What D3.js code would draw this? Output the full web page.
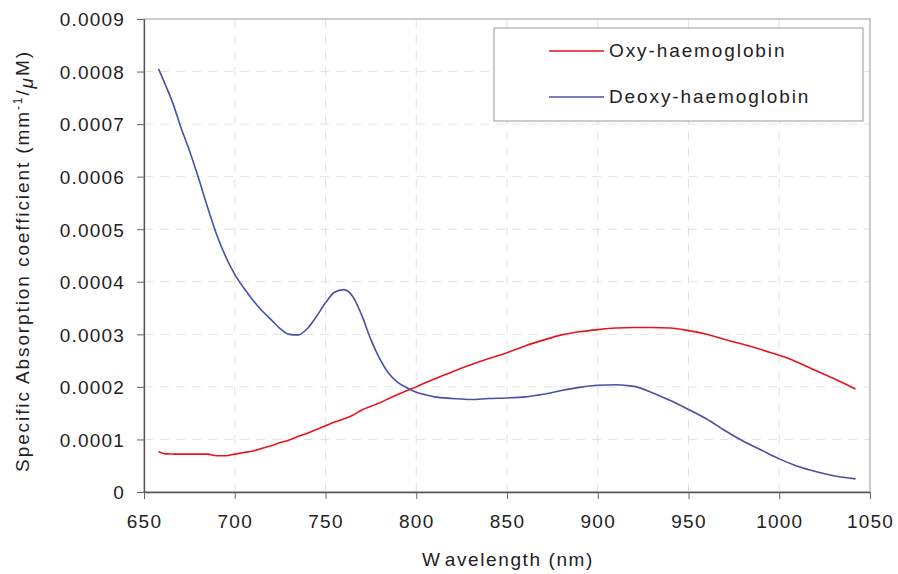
<!DOCTYPE html>
<html>
<head>
<meta charset="utf-8">
<script src="https://cdn.jsdelivr.net/npm/d3@7"></script>
<style>
  body { margin: 0; background: #fff; }
  text { font-family: "Liberation Sans", Arial, sans-serif; fill: #222; }
</style>
</head>
<body>
<div id="chart"></div>
<script>
// wavelength (nm)
const wavelengths = [658, 662, 666, 670, 675, 680, 685, 690, 695, 700, 705, 710, 715, 720, 725, 730, 735, 740, 745, 750,
  755, 760, 765, 770, 775, 780, 785, 790, 795, 800, 805, 810, 820, 830, 840, 850, 860, 870, 880, 890,
  900, 910, 920, 930, 940, 950, 960, 970, 980, 990, 1000, 1010, 1020, 1030, 1042];

const oxy = [0.0000766, 0.0000725, 0.0000722, 0.000072, 0.000072, 0.000072, 0.000072, 0.000069, 0.000069, 0.000072,
  0.000075, 0.000078, 0.000083, 0.000088, 0.000094, 0.000099, 0.000106, 0.000112, 0.000119, 0.000126,
  0.000133, 0.000139, 0.000146, 0.000156, 0.000163, 0.000170, 0.000178, 0.000186, 0.000193, 0.000200,
  0.000208, 0.000215, 0.000229, 0.000242, 0.000254, 0.000265, 0.000278, 0.000289, 0.000299, 0.000305,
  0.000309, 0.000312, 0.000313, 0.000313, 0.000312, 0.000307, 0.000300, 0.000290, 0.000281, 0.000271,
  0.000260, 0.000247, 0.000231, 0.000216, 0.000196];

const deoxy = [0.000805, 0.000773, 0.000739, 0.000697, 0.000650, 0.000598, 0.000542, 0.000490, 0.000448, 0.000414,
  0.000388, 0.000365, 0.000345, 0.000328, 0.000311, 0.000300, 0.000299, 0.000311, 0.000334, 0.000360,
  0.000380, 0.000385, 0.000372, 0.000336, 0.000290, 0.000253, 0.000225, 0.000208, 0.000198, 0.000190,
  0.000185, 0.000181, 0.000178, 0.000176, 0.000178, 0.000179, 0.000181, 0.000186, 0.000193, 0.000199,
  0.000203, 0.000204, 0.000201, 0.000189, 0.000174, 0.000157, 0.000139, 0.000117, 0.000097, 0.000080,
  0.000063, 0.000049, 0.000039, 0.000031, 0.000025];

const xTicks = [650, 700, 750, 800, 850, 900, 950, 1000, 1050];
const yTicks = [0, 0.0001, 0.0002, 0.0003, 0.0004, 0.0005, 0.0006, 0.0007, 0.0008, 0.0009];
const seriesNames = ["Oxy-haemoglobin", "Deoxy-haemoglobin"];
const seriesColors = ["#e8141c", "#4b4fa6"];

const width = 898, height = 574;
const mLeft = 144, mRight = 870, mTop = 19, mBottom = 492;

const svg = d3.select("#chart").append("svg")
  .attr("width", width)
  .attr("height", height);

const x = d3.scaleLinear().domain([650, 1050]).range([mLeft, mRight]);
const y = d3.scaleLinear().domain([0, 0.0009]).range([mBottom, mTop]);

// grid
svg.append("g").selectAll("line").data(xTicks.slice(1, -1)).join("line")
  .attr("x1", d => x(d)).attr("x2", d => x(d))
  .attr("y1", mTop).attr("y2", mBottom)
  .attr("stroke", "#e2e2e2").attr("stroke-dasharray", "9,7");
svg.append("g").selectAll("line").data(yTicks.slice(1, -1)).join("line")
  .attr("x1", mLeft).attr("x2", mRight)
  .attr("y1", d => y(d)).attr("y2", d => y(d))
  .attr("stroke", "#e2e2e2").attr("stroke-dasharray", "9,7");

// frame
svg.append("rect")
  .attr("x", mLeft).attr("y", mTop)
  .attr("width", mRight - mLeft).attr("height", mBottom - mTop)
  .attr("fill", "none").attr("stroke", "#999");

const fmtY = d => d === 0 ? "0" : d.toFixed(4);

const xAxis = svg.append("g")
  .attr("transform", `translate(0,${mBottom})`)
  .call(d3.axisBottom(x).tickValues(xTicks).tickFormat(d3.format("d")).tickSize(7).tickSizeOuter(0).tickPadding(12));
const yAxis = svg.append("g")
  .attr("transform", `translate(${mLeft},0)`)
  .call(d3.axisLeft(y).tickValues(yTicks).tickFormat(fmtY).tickSize(7).tickSizeOuter(0).tickPadding(12));

[xAxis, yAxis].forEach(g => {
  g.select(".domain").attr("stroke", "#555").attr("stroke-width", 1.3);
  g.selectAll(".tick line").attr("stroke", "#666");
  g.selectAll(".tick text")
    .attr("font-size", "19px")
    .attr("letter-spacing", "1.2px")
    .attr("fill", "#222")
    .style("font-family", "'Liberation Sans', Arial, sans-serif");
});
xAxis.selectAll(".tick text").attr("dy", "0.9em");
yAxis.selectAll(".tick text").attr("dy", "0.36em");

// lines
const line = d3.line()
  .x(d => x(d[0]))
  .y(d => y(d[1]))
  .curve(d3.curveMonotoneX);

[oxy, deoxy].forEach((vals, i) => {
  svg.append("path")
    .datum(wavelengths.map((w, j) => [w, vals[j]]))
    .attr("d", line)
    .attr("fill", "none")
    .attr("stroke", seriesColors[i])
    .attr("stroke-width", 1.6);
});

// legend
const legend = svg.append("g");
legend.append("rect")
  .attr("x", 494).attr("y", 28)
  .attr("width", 369).attr("height", 93)
  .attr("fill", "#fff").attr("stroke", "#999");
seriesNames.forEach((name, i) => {
  const ly = 51 + i * 46;
  legend.append("line")
    .attr("x1", 549).attr("x2", 604)
    .attr("y1", ly).attr("y2", ly)
    .attr("stroke", seriesColors[i]).attr("stroke-width", 1.6);
  legend.append("text")
    .attr("x", 609).attr("y", ly + 6)
    .attr("font-size", "19px")
    .attr("letter-spacing", "1.9px")
    .text(name);
});

// axis titles
const xt = svg.append("text")
  .attr("x", (mLeft + mRight) / 2 + 1)
  .attr("y", 566)
  .attr("text-anchor", "middle")
  .attr("font-size", "19px")
  .attr("letter-spacing", "1.6px");
xt.append("tspan").text("W");
xt.append("tspan").attr("dx", 4).text("avelength (nm)");

const yt = svg.append("text")
  .attr("transform", "translate(29,261) rotate(-90)")
  .attr("text-anchor", "middle")
  .attr("font-size", "19px")
  .attr("letter-spacing", "1.9px");
yt.append("tspan").text("Specific Absorption coefficient (mm");
yt.append("tspan").attr("font-size", "12px").attr("dy", "-7").text("-1");
yt.append("tspan").attr("dy", "7").text("/");
yt.append("tspan").attr("font-style", "italic").attr("dy", "4").text("μ");
yt.append("tspan").attr("dy", "-4").text("M)");
</script>
</body>
</html>
